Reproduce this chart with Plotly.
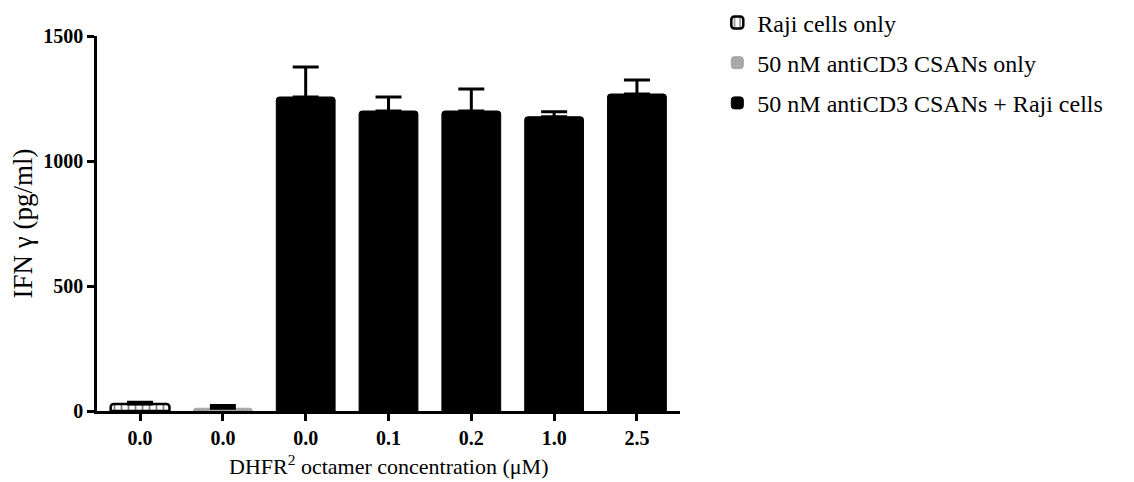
import plotly.graph_objects as go

tick_labels = ["0.0", "0.0", "0.0", "0.1", "0.2", "1.0", "2.5"]

raji_x = [0]
raji_y = [28]
raji_err = [7]

csan_x = [1]
csan_y = [11]
csan_err = [11]

combo_x = [2, 3, 4, 5, 6]
combo_y = [1256, 1200, 1200, 1177, 1268]
combo_err = [120, 56, 88, 20, 56]

serif = "Liberation Serif, Times New Roman, serif"
bar_w = 0.71


def err(vals):
    return dict(type="data", array=vals, arrayminus=[0] * len(vals), symmetric=False,
                color="black", thickness=3, width=13)


fig = go.Figure()
fig.add_trace(go.Bar(
    x=raji_x, y=raji_y, width=bar_w, name="Raji cells only",
    marker=dict(color="white", line=dict(color="black", width=2.5), cornerradius=3,
                pattern=dict(shape="|", fgcolor="black", bgcolor="white", size=7, solidity=0.25)),
    error_y=err(raji_err), legendgroup="a"))
fig.add_trace(go.Bar(
    x=csan_x, y=csan_y, width=bar_w, name="50 nM antiCD3 CSANs only",
    marker=dict(color="#a6a6a6", line=dict(color="#a6a6a6", width=1), cornerradius=3,
                pattern=dict(shape=".", fgcolor="#8c8c8c", bgcolor="#b0b0b0", size=4, solidity=0.4)),
    error_y=err(csan_err), legendgroup="b"))
fig.add_trace(go.Bar(
    x=combo_x, y=combo_y, width=bar_w, name="50 nM antiCD3 CSANs + Raji cells",
    marker=dict(color="black", line=dict(color="black", width=1), cornerradius=3),
    error_y=err(combo_err), legendgroup="c"))

fig.update_layout(
    width=1134, height=482,
    margin=dict(l=89, r=462, t=28, b=79, autoexpand=False),
    plot_bgcolor="white", paper_bgcolor="white",
    barmode="overlay",
    font=dict(family=serif, color="black"),
    showlegend=True,
    legend=dict(x=1.064, y=1.095, xanchor="left", yanchor="top",
                font=dict(family=serif, size=24, color="black"),
                tracegroupgap=6, bgcolor="rgba(0,0,0,0)"),
    xaxis=dict(
        range=[-0.52, 6.52], tickmode="array", tickvals=list(range(len(tick_labels))),
        ticktext=tick_labels, showline=True, linecolor="black", linewidth=2.5,
        ticks="outside", ticklen=7, tickwidth=2.5, tickcolor="black",
        tickfont=dict(family=serif, size=20, color="black", weight="bold"),
        showgrid=False, zeroline=False,
    ),
    yaxis=dict(
        range=[0, 1500], tickmode="array", tickvals=[0, 500, 1000, 1500],
        showline=True, linecolor="black", linewidth=2.5,
        ticks="outside", ticklen=7, tickwidth=2.5, tickcolor="black",
        tickfont=dict(family=serif, size=20, color="black", weight="bold"),
        showgrid=False, zeroline=False,
        title=dict(text="IFN γ (pg/ml)", font=dict(family=serif, size=27, color="black"),
                   standoff=18),
    ),
    annotations=[dict(
        text="DHFR<sup>2</sup> octamer concentration (μM)", xref="paper", yref="paper",
        x=0.5, y=-0.143, xanchor="center", yanchor="middle", showarrow=False,
        font=dict(family=serif, size=22, color="black"),
    )],
)

fig.write_html("out.html")
